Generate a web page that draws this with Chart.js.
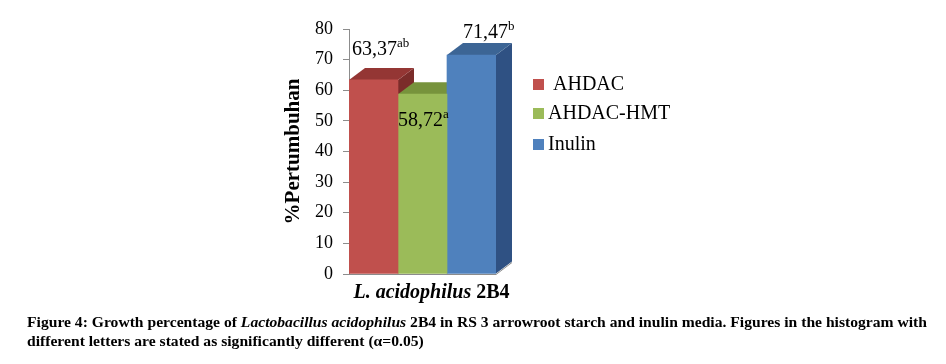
<!DOCTYPE html>
<html>
<head>
<meta charset="utf-8">
<script src="https://cdn.jsdelivr.net/npm/chart.js@4.4.1/dist/chart.umd.min.js"></script>
<style>
html,body{margin:0;padding:0;background:#fff;}
#wrap{position:relative;width:946px;height:364px;}
</style>
</head>
<body>
<div id="wrap"><canvas id="c" width="946" height="364"></canvas></div>
<script>
const categories = ['L. acidophilus 2B4'];
const seriesNames = [' AHDAC', 'AHDAC-HMT', 'Inulin'];
const seriesValues = [63.37, 58.72, 71.47];
const seriesLetters = ['ab', 'a', 'b'];
const yTicks = [0, 10, 20, 30, 40, 50, 60, 70, 80];
const frontColors = ['#C0504D', '#9BBB59', '#4F81BD'];
const topColors = ['#943634', '#77933C', '#3C6595'];
const sideColors = ['#7B2C2A', '#637C31', '#2F5183'];

const SERIF = '"Liberation Serif", "Times New Roman", serif';
const DX = 16, DY = 12;

const threeD = {
  id: 'threeD',
  beforeDatasetsDraw(chart) {
    const ctx = chart.ctx;
    ctx.save();
    chart.data.datasets.forEach((ds, i) => {
      const meta = chart.getDatasetMeta(i);
      meta.data.forEach(bar => {
        const p = bar.getProps(['x', 'y', 'base', 'width'], true);
        const l = p.x - p.width / 2, r = p.x + p.width / 2;
        ctx.fillStyle = sideColors[i];
        ctx.beginPath();
        ctx.moveTo(r, p.y); ctx.lineTo(r + DX, p.y - DY);
        ctx.lineTo(r + DX, p.base - DY); ctx.lineTo(r, p.base);
        ctx.closePath(); ctx.fill();
        ctx.fillStyle = topColors[i];
        ctx.beginPath();
        ctx.moveTo(l, p.y); ctx.lineTo(l + DX, p.y - DY);
        ctx.lineTo(r + DX, p.y - DY); ctx.lineTo(r, p.y);
        ctx.closePath(); ctx.fill();
      });
    });
    ctx.restore();
  },
  afterDatasetsDraw(chart) {
    const ctx = chart.ctx;
    const ca = chart.chartArea;
    ctx.save();
    ctx.strokeStyle = '#8c8c8c';
    ctx.lineWidth = 1;
    ctx.beginPath();
    ctx.moveTo(ca.left, ca.bottom + 0.5);
    ctx.lineTo(ca.right, ca.bottom + 0.5);
    ctx.lineTo(ca.right + DX, ca.bottom - DY + 0.5);
    ctx.stroke();
    const offs = [[3, -25], [0, 32], [16, -17]];
    chart.data.datasets.forEach((ds, i) => {
      const meta = chart.getDatasetMeta(i);
      meta.data.forEach((bar, j) => {
        const p = bar.getProps(['x', 'y', 'width'], true);
        const l = p.x - p.width / 2;
        const txt = ds.data[j].toFixed(2).replace('.', ',');
        const x = l + offs[i][0], y = p.y + offs[i][1];
        ctx.fillStyle = '#000';
        ctx.textBaseline = 'alphabetic';
        ctx.textAlign = 'left';
        ctx.font = '20px ' + SERIF;
        ctx.fillText(txt, x, y);
        const w = ctx.measureText(txt).width;
        ctx.font = '13px ' + SERIF;
        ctx.fillText(seriesLetters[i], x + w, y - 8);
      });
    });
    ctx.restore();
  },
  afterDraw(chart) {
    const ctx = chart.ctx;
    const ca = chart.chartArea;
    ctx.save();
    ctx.fillStyle = '#000';
    ctx.textBaseline = 'alphabetic';
    ctx.textAlign = 'left';
    const cat = categories[0];
    const sp = cat.lastIndexOf(' ');
    const a = cat.slice(0, sp), b = cat.slice(sp);
    ctx.font = 'italic bold 20px ' + SERIF;
    const wa = ctx.measureText(a).width;
    ctx.font = 'bold 20px ' + SERIF;
    const wb = ctx.measureText(b).width;
    let x0 = (ca.left + ca.right + DX) / 2 + 1 - (wa + wb) / 2;
    ctx.font = 'italic bold 20px ' + SERIF;
    ctx.fillText(a, x0, 298);
    ctx.font = 'bold 20px ' + SERIF;
    ctx.fillText(b, x0 + wa, 298);
    const rows = [90, 119, 150];
    chart.data.datasets.forEach((ds, i) => {
      ctx.fillStyle = ds.backgroundColor;
      ctx.fillRect(533, rows[i] - 11, 11, 11);
      ctx.fillStyle = '#000';
      ctx.font = '20px ' + SERIF;
      ctx.fillText(ds.label, 548, rows[i]);
    });
    const line1 = [
      ['bold', 'Figure 4: Growth percentage of '],
      ['italic bold', 'Lactobacillus acidophilus'],
      ['bold', ' 2B4 in RS 3 arrowroot starch and inulin media. Figures in the histogram with']
    ];
    const line2 = [['bold', 'different letters are stated as significantly different (\u03B1=0.05)']];
    const fs = 14;
    const measure = segs => segs.reduce((s, g) => { ctx.font = g[0] + ' ' + fs + 'px ' + SERIF; return s + ctx.measureText(g[1]).width; }, 0);
    const scale = 900 / measure(line1);
    const drawLine = (segs, y) => {
      ctx.save();
      ctx.translate(27, y);
      ctx.scale(scale, 1);
      let x = 0;
      segs.forEach(g => {
        ctx.font = g[0] + ' ' + fs + 'px ' + SERIF;
        ctx.fillText(g[1], x, 0);
        x += ctx.measureText(g[1]).width;
      });
      ctx.restore();
    };
    ctx.fillStyle = '#000';
    drawLine(line1, 327);
    drawLine(line2, 346);
    ctx.restore();
  }
};

new Chart(document.getElementById('c'), {
  type: 'bar',
  data: {
    labels: categories,
    datasets: seriesNames.map((n, i) => ({
      label: n,
      data: [seriesValues[i]],
      backgroundColor: frontColors[i],
      borderWidth: 0,
      barPercentage: 1,
      categoryPercentage: 1
    }))
  },
  options: {
    responsive: false,
    animation: false,
    devicePixelRatio: 1,
    layout: { padding: { left: 0, top: 29, right: 450, bottom: 90 } },
    plugins: { legend: { display: false }, tooltip: { enabled: false } },
    scales: {
      x: { display: false },
      y: {
        min: 0, max: 80,
        afterFit(s) { s.width = 349; },
        afterBuildTicks(s) { s.ticks = yTicks.map(v => ({ value: v })); },
        grid: { drawOnChartArea: false, drawTicks: true, tickLength: 6, color: '#8c8c8c' },
        border: { color: '#8c8c8c', width: 1 },
        ticks: { padding: 10, color: '#000', font: { family: SERIF, size: 18 } },
        title: {
          display: true, text: '%Pertumbuhan', color: '#000',
          font: { family: SERIF, size: 21, weight: 'bold' },
          padding: { top: 281, bottom: 0 }
        }
      }
    }
  },
  plugins: [threeD]
});
</script>
</body>
</html>
